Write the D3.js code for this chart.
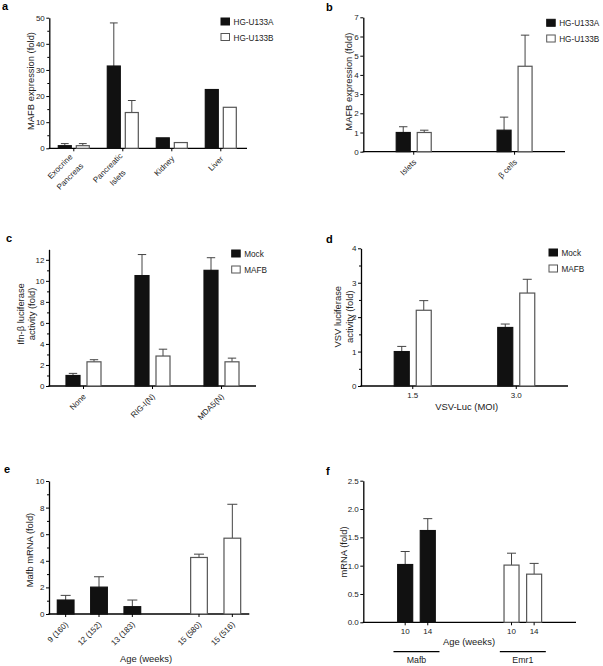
<!DOCTYPE html>
<html>
<head>
<meta charset="utf-8">
<script src="https://cdn.jsdelivr.net/npm/d3@7"></script>
<style>
body { margin: 0; background: #fff; }
svg { display: block; font-family: "Liberation Sans", Arial, sans-serif; }
</style>
</head>
<body>
<svg width="603" height="666"></svg>
<script>
// ---- data ----
// a
var aTissues = [["Exocrine", "Pancreas"], ["Pancreatic", "Islets"], ["Kidney"], ["Liver"]];
var aU133A = [1.0, 31.5, 4.0, 22.5], aU133AErr = [0.8, 16.5, 0, 0];
var aU133B = [1.0, 13.7, 2.2, 15.7], aU133BErr = [0.8, 4.6, 0, 0];
// b
var bCells = [["Islets"], ["\u03b2 cells"]];
var bU133A = [1.0, 1.12], bU133AErr = [0.3, 0.68];
var bU133B = [1.0, 4.45], bU133BErr = [0.12, 1.62];
// c
var cStim = [["None"], ["RIG-I(N)"], ["MDA5(N)"]];
var cMock = [1.0, 10.5, 11.0], cMockErr = [0.2, 2.0, 1.2];
var cMafb = [2.3, 2.85, 2.3], cMafbErr = [0.2, 0.65, 0.35];
// d
var dMoi = ["1.5", "3.0"];
var dMock = [1.0, 1.7], dMockErr = [0.15, 0.1];
var dMafb = [2.2, 2.7], dMafbErr = [0.28, 0.4];
// e
var eAges = ["9 (160)", "12 (152)", "13 (183)", "15 (580)", "15 (516)"];
var eMafb = [1.05, 2.02, 0.55, 4.25, 5.7], eMafbErr = [0.35, 0.78, 0.5, 0.25, 2.55];
var eDark = [true, true, true, false, false];
// f
var fGenes = ["Mafb", "Emr1"];
var fWeeks = ["10", "14"];
var fMafb = [1.02, 1.62], fMafbErr = [0.23, 0.21];
var fEmr1 = [1.01, 0.85], fEmr1Err = [0.21, 0.19];

var svg = d3.select("svg");
var TICK_FS = 8, TITLE_FS = 9.4, LEG_FS = 8.2;

function panel(o) {
  var g = svg.append("g");
  var y = d3.scaleLinear().domain([0, o.yMax]).range([o.y0, o.yTop]);

  var ax = g.append("g")
      .attr("transform", "translate(" + o.x0 + ",0)")
      .call(d3.axisLeft(y).tickValues(o.major).tickFormat(o.fmt)
        .tickSize(3).tickPadding(1.5).tickSizeOuter(0));
  ax.select(".domain").attr("stroke", "#000").attr("stroke-width", 1.3);
  ax.selectAll("text").attr("font-size", TICK_FS).attr("fill", "#222")
    .attr("font-family", "Liberation Sans, Arial, sans-serif");

  if (o.minor) {
    var mn = g.append("g")
        .attr("transform", "translate(" + o.x0 + ",0)")
        .call(d3.axisLeft(y).tickValues(o.minor).tickFormat("").tickSize(2).tickSizeOuter(0));
    mn.select(".domain").remove();
  }

  g.append("line")
    .attr("x1", o.x0 - 0.6).attr("x2", o.x1)
    .attr("y1", o.y0).attr("y2", o.y0)
    .attr("stroke", "#000").attr("stroke-width", 1.3);

  g.append("text")
    .attr("x", o.lx).attr("y", o.ly)
    .attr("font-size", 11).attr("font-weight", "bold")
    .text(o.letter);

  // y title (1 or 2 lines)
  o.yTitle.forEach(function (t, i) {
    g.append("text")
      .attr("transform", "translate(" + o.yTitleX[i] + "," + o.yTitleY + ") rotate(-90)")
      .attr("text-anchor", "middle")
      .attr("font-size", TITLE_FS).attr("fill", "#222")
      .text(t);
  });
  return {g: g, y: y, o: o};
}

function bars(p, list) {
  var y = p.y;
  var b = p.g.selectAll(null).data(list).enter().append("g");
  b.filter(function (d) { return d.e > 0; }).each(function (d) {
    var s = d3.select(this), cw = d.w * 0.6;
    s.append("line").attr("x1", d.cx).attr("x2", d.cx)
      .attr("y1", y(d.v)).attr("y2", y(d.v + d.e))
      .attr("stroke", "#444").attr("stroke-width", 1);
    s.append("line").attr("x1", d.cx - cw / 2).attr("x2", d.cx + cw / 2)
      .attr("y1", y(d.v + d.e)).attr("y2", y(d.v + d.e))
      .attr("stroke", "#444").attr("stroke-width", 1);
  });
  b.append("rect")
    .attr("x", function (d) { return d.cx - d.w / 2; })
    .attr("y", function (d) { return y(d.v); })
    .attr("width", function (d) { return d.w; })
    .attr("height", function (d) { return y(0) - y(d.v); })
    .attr("fill", function (d) { return d.dark ? "#111" : "#fff"; })
    .attr("stroke", function (d) { return d.dark ? "#111" : "#555"; })
    .attr("stroke-width", 1.2);
}

function xTicks(p, xs) {
  p.g.selectAll(null).data(xs).enter().append("line")
    .attr("x1", function (d) { return d; }).attr("x2", function (d) { return d; })
    .attr("y1", p.o.y0).attr("y2", p.o.y0 + 3)
    .attr("stroke", "#000").attr("stroke-width", 1);
}

// rotated (-45) category labels; a 2-line label is a block whose lines are centred on each other
function rotLabels(p, xs, labels) {
  labels.forEach(function (lines, i) {
    var g = p.g.append("g")
      .attr("transform", "translate(" + (xs[i] + 1) + "," + (p.o.y0 + 9) + ") rotate(-45)");
    var ys = lines.length > 1 ? [-4, 10] : [0];
    var ts = lines.map(function (l, j) {
      return g.append("text").attr("x", 0).attr("y", ys[j])
        .attr("dy", "0.35em").attr("text-anchor", "end")
        .attr("font-size", TICK_FS).attr("fill", "#222").text(l);
    });
    var w = ts.map(function (t) { return t.node().getComputedTextLength(); });
    var maxW = d3.max(w);
    ts.forEach(function (t, j) { t.attr("x", -(maxW - w[j]) / 2); });
  });
}

function legend(p, x, ys, names) {
  names.forEach(function (n, i) {
    p.g.append("rect").attr("x", x).attr("y", ys[i]).attr("width", 8.5).attr("height", 7)
      .attr("fill", i === 0 ? "#111" : "#fff")
      .attr("stroke", i === 0 ? "#111" : "#555").attr("stroke-width", 1);
    p.g.append("text").attr("x", x + 12.5).attr("y", ys[i] + 7)
      .attr("font-size", LEG_FS).attr("fill", "#222").text(n);
  });
}

function grouped(p, cats, range, w, off, A, Ae, B, Be) {
  var x = d3.scaleBand().domain(d3.range(cats.length)).range(range);
  var list = [];
  cats.forEach(function (c, i) {
    var cx = x(i) + x.bandwidth() / 2;
    list.push({cx: cx - off, w: w, v: A[i], e: Ae[i], dark: true});
    list.push({cx: cx + off, w: w, v: B[i], e: Be[i], dark: false});
  });
  bars(p, list);
  var xs = cats.map(function (c, i) { return x(i) + x.bandwidth() / 2; });
  xTicks(p, xs);
  return xs;
}

// ---- a ----
var pa = panel({letter: "a", lx: 2, ly: 10, x0: 49.3, x1: 247, y0: 148.3, yTop: 17.7, yMax: 50,
  major: d3.range(0, 51, 10), minor: d3.range(5, 50, 10), fmt: d3.format("d"),
  yTitle: ["MAFB expression (fold)"], yTitleX: [33.5], yTitleY: 81});
var xa = grouped(pa, aTissues, [49.3, 245.3], 13, 9, aU133A, aU133AErr, aU133B, aU133BErr);
rotLabels(pa, xa, aTissues);
legend(pa, 221, [18, 33.5], ["HG-U133A", "HG-U133B"]);

// ---- b ----
var pb = panel({letter: "b", lx: 326, ly: 11, x0: 363.3, x1: 565, y0: 151.7, yTop: 17.3, yMax: 7,
  major: d3.range(0, 8, 1), minor: null, fmt: d3.format("d"),
  yTitle: ["MAFB expression (fold)"], yTitleX: [352], yTitleY: 81.7});
var xb = grouped(pb, bCells, [363.3, 565], 14, 10.5, bU133A, bU133AErr, bU133B, bU133BErr);
rotLabels(pb, xb, bCells);
legend(pb, 546.7, [19.3, 35], ["HG-U133A", "HG-U133B"]);

// ---- c ----
var pc = panel({letter: "c", lx: 6, ly: 242, x0: 49, x1: 256, y0: 386, yTop: 249.3, yMax: 13,
  major: d3.range(0, 13, 2), minor: d3.range(1, 13, 2), fmt: d3.format("d"),
  yTitle: ["Ifn-\u03b2 luciferase", "activity (fold)"], yTitleX: [23.5, 34.5], yTitleY: 314});
var xc = grouped(pc, cStim, [49, 256], 14, 10.5, cMock, cMockErr, cMafb, cMafbErr);
rotLabels(pc, xc, cStim);
legend(pc, 231.7, [250, 266], ["Mock", "MAFB"]);

// ---- d ----
var pd = panel({letter: "d", lx: 326, ly: 243, x0: 361, x1: 568, y0: 386, yTop: 248.3, yMax: 4,
  major: d3.range(0, 5, 1), minor: d3.range(0.5, 4, 1), fmt: d3.format("d"),
  yTitle: ["VSV luciferase", "activity (fold)"], yTitleX: [340.5, 353], yTitleY: 316.7});
var xd = grouped(pd, dMoi, [361, 568], 15, 11, dMock, dMockErr, dMafb, dMafbErr);
pd.g.selectAll(null).data(dMoi).enter().append("text")
  .attr("x", function (d, i) { return xd[i]; }).attr("y", 397.7)
  .attr("text-anchor", "middle").attr("font-size", TICK_FS).attr("fill", "#222")
  .text(function (d) { return d; });
pd.g.append("text").attr("x", 466.7).attr("y", 410).attr("text-anchor", "middle")
  .attr("font-size", TITLE_FS).attr("fill", "#222").text("VSV-Luc (MOI)");
legend(pd, 549, [249, 265], ["Mock", "MAFB"]);

// ---- e ----
var pe = panel({letter: "e", lx: 4, ly: 473, x0: 49, x1: 249.3, y0: 614, yTop: 481, yMax: 10,
  major: d3.range(0, 11, 2), minor: d3.range(1, 10, 2), fmt: d3.format("d"),
  yTitle: ["Mafb mRNA (fold)"], yTitleX: [33], yTitleY: 550});
var eSlots = eAges.slice(0, 3).concat(["gap"], eAges.slice(3));
var xe = d3.scaleBand().domain(eSlots).range([49, 249]);
var xeC = eAges.map(function (a) { return xe(a) + xe.bandwidth() / 2; });
bars(pe, eAges.map(function (a, i) {
  return {cx: xeC[i], w: 16.7, v: eMafb[i], e: eMafbErr[i], dark: eDark[i]};
}));
xTicks(pe, xeC);
rotLabels(pe, xeC, eAges.map(function (a) { return [a]; }));
pe.g.append("text").attr("x", 146).attr("y", 661.7).attr("text-anchor", "middle")
  .attr("font-size", TITLE_FS).attr("fill", "#222").text("Age (weeks)");

// ---- f ----
var pf = panel({letter: "f", lx: 326, ly: 475, x0: 363.3, x1: 576, y0: 622.3, yTop: 480.7, yMax: 2.5,
  major: d3.range(0, 2.51, 0.5), minor: null, fmt: d3.format(".1f"),
  yTitle: ["mRNA (fold)"], yTitleX: [346.5], yTitleY: 552});
var xf = d3.scaleBand().domain(fGenes).range([363.3, 576]);
var fVals = [fMafb, fEmr1], fErrs = [fMafbErr, fEmr1Err];
var fList = [], fXs = [];
fGenes.forEach(function (gname, gi) {
  var gc = xf(gname) + xf.bandwidth() / 2;
  fWeeks.forEach(function (wk, wi) {
    var cx = gc + (wi === 0 ? -11.3 : 11.3);
    fXs.push({x: cx, t: wk});
    fList.push({cx: cx, w: 15, v: fVals[gi][wi], e: fErrs[gi][wi], dark: gi === 0});
  });
  pf.g.append("line").attr("x1", gc - 23).attr("x2", gc + 23)
    .attr("y1", 651.7).attr("y2", 651.7).attr("stroke", "#000").attr("stroke-width", 1.2);
  pf.g.append("text").attr("x", gc).attr("y", 662.7).attr("text-anchor", "middle")
    .attr("font-size", TITLE_FS - 0.6).attr("fill", "#222").text(gname);
});
bars(pf, fList);
xTicks(pf, fXs.map(function (d) { return d.x; }));
pf.g.selectAll(null).data(fXs).enter().append("text")
  .attr("x", function (d) { return d.x; }).attr("y", 634.3)
  .attr("text-anchor", "middle").attr("font-size", TICK_FS).attr("fill", "#222")
  .text(function (d) { return d.t; });
pf.g.append("text").attr("x", 469).attr("y", 645).attr("text-anchor", "middle")
  .attr("font-size", TITLE_FS).attr("fill", "#222").text("Age (weeks)");
</script>
</body>
</html>
